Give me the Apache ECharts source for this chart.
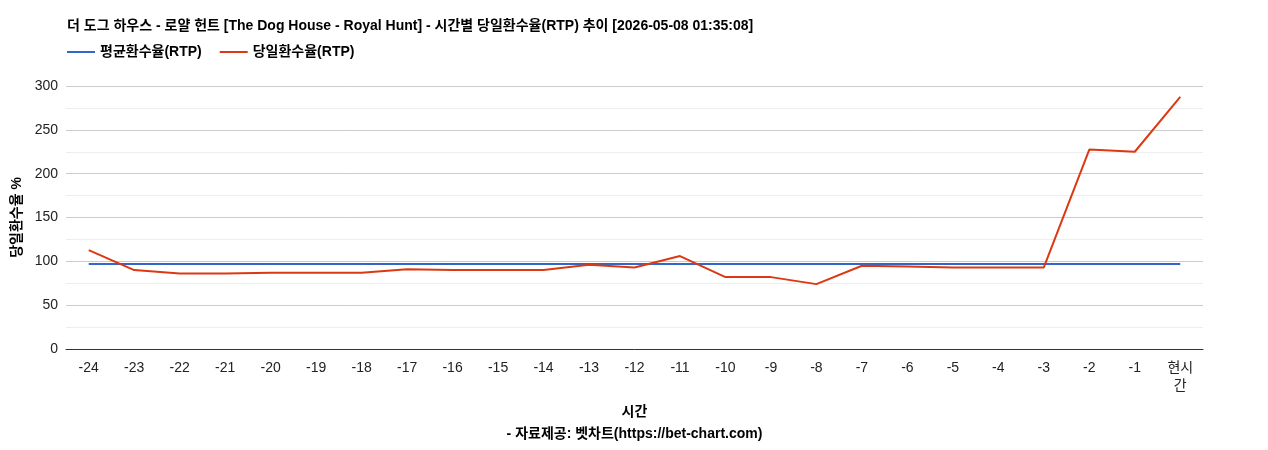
<!DOCTYPE html>
<html><head><meta charset="utf-8">
<script src="https://cdn.jsdelivr.net/npm/echarts@6/dist/echarts.min.js"></script>
<style>html,body{margin:0;padding:0;background:#fff}#c{width:1268px;height:450px}</style>
</head><body><div id="c"></div>
<script>
const categories = ['-24','-23','-22','-21','-20','-19','-18','-17','-16','-15','-14','-13','-12','-11','-10','-9','-8','-7','-6','-5','-4','-3','-2','-1','현시\n간'];
const avgRtp = [97,97,97,97,97,97,97,97,97,97,97,97,97,97,97,97,97,97,97,97,97,97,97,97,97];
const dayRtp = [112.7,90,86,86,87,87,87,91,90,90,90,96,93,106,82,82,74,95,94,93,93,93,227.5,225,287.6];
const F = '"Liberation Sans", "Noto Sans CJK KR", sans-serif';
const chart = echarts.init(document.getElementById('c'));
chart.setOption({
  animation:false,
  textStyle:{fontFamily:F},
  title:{text:'더 도그 하우스 - 로얄 헌트 [The Dog House - Royal Hunt] - 시간별 당일환수율(RTP) 추이 [2026-05-08 01:35:08]',left:62,top:14,textStyle:{fontSize:14,fontWeight:'bold',color:'#000',fontFamily:F}},
  legend:{left:62,top:40,itemWidth:28,itemHeight:2,icon:'rect',itemGap:18,textStyle:{fontSize:14,fontWeight:'bold',color:'#000',fontFamily:F},data:['평균환수율(RTP)','당일환수율(RTP)']},
  grid:{left:66,right:65,top:86,bottom:87},
  xAxis:{type:'category',data:categories,boundaryGap:true,
    name:'시간\n- 자료제공: 벳차트(https://bet-chart.com)',nameLocation:'middle',nameGap:52,
    nameTextStyle:{fontSize:14,fontWeight:'bold',color:'#000',lineHeight:22,fontFamily:F},
    axisLine:{lineStyle:{color:'#333'}},axisTick:{show:false},
    axisLabel:{color:'#222',fontSize:14,margin:10,lineHeight:18,interval:0}},
  yAxis:{type:'value',min:0,max:300,interval:50,
    name:'당일환수율 %',nameLocation:'middle',nameGap:40,nameTextStyle:{fontSize:14,fontWeight:'bold',color:'#000',fontFamily:F},
    axisLabel:{color:'#222',fontSize:14},
    splitLine:{lineStyle:{color:'#ccc'}},
    minorTick:{show:false,splitNumber:2},minorSplitLine:{show:true,lineStyle:{color:'#eee'}}},
  series:[
    {name:'평균환수율(RTP)',type:'line',data:avgRtp,symbol:'none',lineStyle:{color:'#3366cc',width:2},itemStyle:{color:'#3366cc'}},
    {name:'당일환수율(RTP)',type:'line',data:dayRtp,symbol:'none',lineStyle:{color:'#dc3912',width:2},itemStyle:{color:'#dc3912'}}
  ]
});
</script></body></html>
